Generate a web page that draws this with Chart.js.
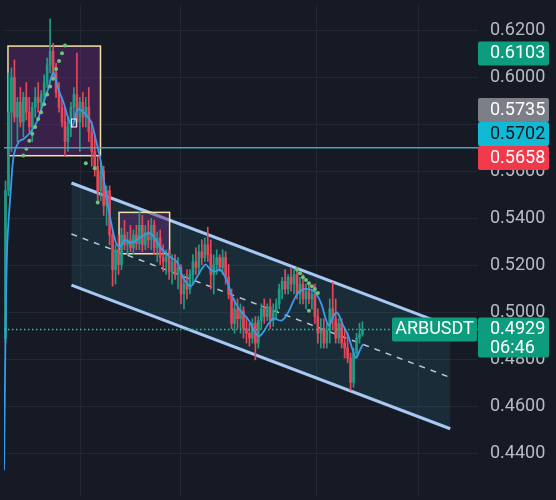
<!DOCTYPE html>
<html>
<head>
<meta charset="utf-8">
<script src="https://cdn.jsdelivr.net/npm/chart.js@4.4.1/dist/chart.umd.min.js"></script>
<style>
  html, body { margin: 0; padding: 0; background: #161a25; }
  #wrap { width: 556px; height: 500px; position: relative; }
</style>
</head>
<body>
<div id="wrap"><canvas id="chart"></canvas></div>
<script>
// ── ARBUSDT candles ──
const opens = [
  0.4892,0.5519,0.5853,0.6000,0.5832,0.5895,0.5811,0.5916,0.5853,0.5790,
  0.5874,0.5916,0.5895,0.5928,0.5979,0.6054,0.6112,0.6020,0.5937,0.5874,
  0.5811,0.5728,0.5790,0.5874,0.5928,0.5811,0.5895,0.5832,0.5874,0.5770,
  0.5686,0.5623,0.5519,0.5602,0.5456,0.5519,0.5331,0.5184,0.5268,0.5205,
  0.5331,0.5289,0.5310,0.5276,0.5331,0.5293,0.5372,0.5289,0.5343,0.5310,
  0.5372,0.5276,0.5318,0.5235,0.5218,0.5247,0.5176,0.5218,0.5163,0.5193,
  0.5080,0.5122,0.5101,0.5163,0.5218,0.5193,0.5260,0.5235,0.5289,0.5247,
  0.5163,0.5205,0.5235,0.5193,0.5235,0.5151,0.5080,0.4955,0.5017,0.4975,
  0.5009,0.4933,0.4913,0.4892,0.4955,0.4871,0.4967,0.5017,0.4984,0.5026,
  0.4967,0.5009,0.5038,0.5101,0.5134,0.5101,0.5151,0.5122,0.5163,0.5080,
  0.5122,0.5059,0.5092,0.5059,0.5080,0.4984,0.4913,0.4933,0.4871,0.4925,
  0.5017,0.4975,0.4892,0.4955,0.4871,0.4850,0.4808,0.4704,0.4829,0.4892,
  0.4908
];
const highs = [
  0.5561,0.6020,0.6041,0.6075,0.5916,0.5958,0.5937,0.5979,0.5916,0.5895,
  0.5958,0.5979,0.5945,0.6012,0.6083,0.6250,0.6146,0.6062,0.5979,0.5916,
  0.5874,0.5832,0.5895,0.5958,0.6104,0.5916,0.5937,0.5916,0.5958,0.5811,
  0.5749,0.5665,0.5644,0.5623,0.5540,0.5540,0.5352,0.5289,0.5331,0.5360,
  0.5393,0.5343,0.5372,0.5352,0.5372,0.5435,0.5414,0.5372,0.5393,0.5402,
  0.5393,0.5343,0.5352,0.5289,0.5268,0.5268,0.5247,0.5247,0.5235,0.5205,
  0.5163,0.5184,0.5184,0.5247,0.5276,0.5289,0.5310,0.5318,0.5364,0.5310,
  0.5247,0.5268,0.5247,0.5268,0.5260,0.5205,0.5101,0.5059,0.5059,0.5038,
  0.5026,0.4984,0.4955,0.4975,0.4984,0.4984,0.5038,0.5059,0.5038,0.5059,
  0.5038,0.5059,0.5122,0.5151,0.5184,0.5163,0.5193,0.5184,0.5193,0.5151,
  0.5163,0.5122,0.5122,0.5101,0.5122,0.5017,0.4975,0.4975,0.4955,0.5059,
  0.5130,0.5059,0.4975,0.4975,0.4933,0.4913,0.4829,0.4850,0.4913,0.4955,
  0.4962
];
const lows = [
  0.4871,0.5498,0.5686,0.5811,0.5728,0.5790,0.5749,0.5820,0.5770,0.5728,
  0.5832,0.5853,0.5862,0.5895,0.5958,0.6020,0.6000,0.5916,0.5853,0.5790,
  0.5665,0.5686,0.5749,0.5832,0.5790,0.5686,0.5790,0.5790,0.5728,0.5623,
  0.5581,0.5477,0.5477,0.5414,0.5372,0.5289,0.5113,0.5122,0.5163,0.5184,
  0.5268,0.5247,0.5260,0.5247,0.5268,0.5268,0.5260,0.5268,0.5276,0.5268,
  0.5247,0.5218,0.5205,0.5176,0.5163,0.5142,0.5122,0.5142,0.5101,0.5038,
  0.5017,0.5059,0.5080,0.5122,0.5163,0.5163,0.5205,0.5218,0.5218,0.5101,
  0.5080,0.5163,0.5176,0.5163,0.5122,0.5059,0.4933,0.4913,0.4933,0.4913,
  0.4892,0.4871,0.4858,0.4871,0.4800,0.4850,0.4933,0.4955,0.4967,0.4933,
  0.4942,0.4975,0.5017,0.5059,0.5080,0.5080,0.5092,0.5080,0.5059,0.5038,
  0.5038,0.5017,0.5038,0.5017,0.4955,0.4871,0.4850,0.4850,0.4850,0.4871,
  0.4933,0.4871,0.4871,0.4850,0.4808,0.4787,0.4670,0.4683,0.4808,0.4871,
  0.4900
];
const closes = [
  0.5519,0.5853,0.6000,0.5832,0.5895,0.5811,0.5916,0.5853,0.5790,0.5874,
  0.5916,0.5895,0.5928,0.5979,0.6054,0.6112,0.6020,0.5937,0.5874,0.5811,
  0.5728,0.5790,0.5874,0.5928,0.5811,0.5895,0.5832,0.5874,0.5770,0.5686,
  0.5623,0.5519,0.5602,0.5456,0.5519,0.5331,0.5184,0.5268,0.5205,0.5331,
  0.5289,0.5310,0.5276,0.5331,0.5293,0.5372,0.5289,0.5343,0.5310,0.5372,
  0.5276,0.5318,0.5235,0.5218,0.5247,0.5176,0.5218,0.5163,0.5193,0.5080,
  0.5122,0.5101,0.5163,0.5218,0.5193,0.5260,0.5235,0.5289,0.5247,0.5163,
  0.5205,0.5235,0.5193,0.5235,0.5151,0.5080,0.4955,0.5017,0.4975,0.5009,
  0.4933,0.4913,0.4892,0.4955,0.4871,0.4967,0.5017,0.4984,0.5026,0.4967,
  0.5009,0.5038,0.5101,0.5134,0.5101,0.5151,0.5122,0.5163,0.5080,0.5122,
  0.5059,0.5092,0.5059,0.5080,0.4984,0.4913,0.4933,0.4871,0.4925,0.5017,
  0.4975,0.4892,0.4955,0.4871,0.4850,0.4808,0.4704,0.4829,0.4892,0.4908,
  0.4929
];

// ── moving average (blue) ──
const maIdx = [-0.5,0.5,1.83,2.83,4.5,6.17,8.5,10.5,12.83,14.5,15.5,16.17,17.83,19.5,21.17,22.5,
  23.83,24.83,26.83,28.83,30.5,31.83,33.5,35.17,37.17,38.5,40.17,42.17,45.5,48.5,50.5,52.17,
  55.17,57.83,59.5,62.17,64.5,67.17,68.83,70.5,72.17,74.5,76.17,78.5,81.83,83.5,85.17,86.83,
  88.5,90.17,92.83,95.17,96.83,98.5,100.5,102.83,104.5,106.17,107.83,108.83,110.17,111.5,
  113.17,115.17,116.5,117.83,119.17,120.17];
const maVal = [0.4330,0.5256,0.5531,0.5673,0.5728,0.5740,0.5770,0.5811,0.5895,0.5958,0.6008,0.6020,
  0.5949,0.5895,0.5824,0.5795,0.5853,0.5866,0.5845,0.5811,0.5728,0.5657,0.5531,0.5406,0.5297,
  0.5281,0.5310,0.5297,0.5322,0.5339,0.5310,0.5276,0.5239,0.5214,0.5155,0.5113,0.5155,0.5205,
  0.5184,0.5176,0.5184,0.5134,0.5071,0.5017,0.4967,0.4925,0.4900,0.4921,0.4955,0.4975,0.4967,
  0.5005,0.5051,0.5088,0.5101,0.5097,0.5080,0.5038,0.4967,0.4946,0.4984,0.5001,0.4955,0.4904,
  0.4850,0.4808,0.4842,0.4867];

// ── SAR dots (green) ──
const sarIdx = [6,7,8,9,10,11,12,13,14,15,16,17,18,19,20, 27,30,31, 98,99,100,101,102,103,104,105,102];
const sarVal = [0.5669,0.5698,0.5732,0.5761,0.5790,0.5824,0.5853,0.5887,0.5928,0.5962,0.5995,
  0.6037,0.6071,0.6104,0.6137, 0.5636,0.5615,0.5469,
  0.5184,0.5168,0.5151,0.5139,0.5126,0.5113,0.5101,0.5084,0.5009];

// ── descending channel ──
const channelIdx = [22.17, 149.5];
const upperVal = [0.5552, 0.4942];
const midVal   = [0.5335, 0.4725];
const lowerVal = [0.5118, 0.4507];

// ── rectangles (start idx, end idx, top, bottom) ──
const boxStart  = [0.83, 38.17];
const boxEnd    = [31.93, 55.17];
const boxTop    = [0.6134, 0.5427];
const boxBottom = [0.5668, 0.5251];

// small white marker inside the first box
const markStart = 22.2, markEnd = 23.8, markTop = 0.5824, markBottom = 0.5790;

// ── price lines / tags ──
const cyanLevel = 0.5702;
const lastPrice = 0.4929;
const lastTimer = '06:46';
const symbol = 'ARBUSDT';
const tagValues = [0.6103, 0.5735, 0.5702, 0.5658, 0.4929];
const tagFill   = ['#0e9c7e', '#7c7f88', '#12b9d5', '#f03a4b', '#0e9c7e'];
const tagInk    = ['#ffffff', '#ffffff', '#131722', '#ffffff', '#ffffff'];

// ── axis ──
const gridX = [25.17, 58.83, 104.5, 138.83];
const yMin = 0.4221, yMax = 0.6313, yStep = 0.02;

const UP = '#1f9d84', DOWN = '#e8475a';
const idx = closes.map((_, i) => i);
const candleColors = closes.map((c, i) => c >= opens[i] ? UP : DOWN);
const pts = (xs, ys) => xs.map((v, i) => ({ x: v, y: ys[i] }));

/* ════════════════════════════
   OVERLAYS (boxes, price lines, tags)
════════════════════════════ */
const overlays = {
  id: 'overlays',
  beforeDatasetDraw(chart, args) {
    if (args.index !== 3) return;
    const { ctx, scales: { x, y } } = chart;
    ctx.save();
    boxStart.forEach((s, i) => {
      const x0 = x.getPixelForValue(s), x1 = x.getPixelForValue(boxEnd[i]);
      const y0 = y.getPixelForValue(boxTop[i]), y1 = y.getPixelForValue(boxBottom[i]);
      ctx.fillStyle = 'rgba(103,43,120,0.45)';
      ctx.fillRect(x0, y0, x1 - x0, y1 - y0);
      ctx.strokeStyle = '#f3e2a2';
      ctx.lineWidth = 1.5;
      ctx.strokeRect(x0, y0, x1 - x0, y1 - y0);
    });
    ctx.restore();
  },
  afterDatasetsDraw(chart) {
    const { ctx, chartArea: a, scales: { x, y } } = chart;
    ctx.save();
    // marker
    const mx0 = x.getPixelForValue(markStart), mx1 = x.getPixelForValue(markEnd);
    const my0 = y.getPixelForValue(markTop), my1 = y.getPixelForValue(markBottom);
    ctx.strokeStyle = '#ffffff';
    ctx.lineWidth = 1;
    ctx.strokeRect(mx0, my0, mx1 - mx0, my1 - my0);
    // cyan level
    let py = y.getPixelForValue(cyanLevel);
    ctx.strokeStyle = '#4aa3b6';
    ctx.lineWidth = 1.5;
    ctx.beginPath(); ctx.moveTo(a.left, py); ctx.lineTo(a.right, py); ctx.stroke();
    // last price dotted
    py = Math.round(y.getPixelForValue(lastPrice)) + 0.5;
    ctx.strokeStyle = '#2fc49c';
    ctx.lineWidth = 1.5;
    ctx.setLineDash([1.5, 2.5]);
    ctx.beginPath(); ctx.moveTo(a.left, py); ctx.lineTo(a.right, py); ctx.stroke();
    ctx.restore();
  },
  afterDraw(chart) {
    const { ctx, chartArea: a, scales: { y } } = chart;
    const h = 24, w = 71;
    ctx.save();
    ctx.font = '18px Roboto';
    ctx.textBaseline = 'middle';
    const order = tagValues.map((v, i) => i).sort((p, q) => tagValues[p] - tagValues[q]);
    let prevTop = Infinity;
    order.forEach(i => {
      const v = tagValues[i];
      const two = v === lastPrice;
      const bh = two ? 40 : h;
      const top = Math.min(y.getPixelForValue(v) - h / 2, prevTop - bh);
      prevTop = top;
      ctx.fillStyle = tagFill[i];
      ctx.beginPath(); ctx.roundRect(a.right, top, w, bh, 2); ctx.fill();
      ctx.fillStyle = tagInk[i];
      ctx.textAlign = 'left';
      ctx.fillText(v.toFixed(4), a.right + 12, top + 12.5);
      if (two) {
        ctx.fillText(lastTimer, a.right + 12, top + 31);
        // symbol label
        ctx.fillStyle = tagFill[i];
        ctx.beginPath(); ctx.roundRect(a.right - 86, top, 85, h, 2); ctx.fill();
        ctx.fillStyle = '#ffffff';
        ctx.textAlign = 'center';
        ctx.fillText(symbol, a.right - 43.5, top + 12.5);
      }
    });
    ctx.restore();
  }
};

/* ════════════════════════════
   CHART
════════════════════════════ */
new Chart(document.getElementById('chart'), {
  type: 'bar',
  data: {
    datasets: [
      { type: 'line', data: pts(channelIdx, upperVal), borderColor: '#a6c8f2', borderWidth: 3,
        pointRadius: 0, order: 6 },
      { type: 'line', data: pts(channelIdx, lowerVal), borderColor: '#a6c8f2', borderWidth: 3,
        pointRadius: 0, fill: '-1', backgroundColor: 'rgba(45,110,130,0.22)', order: 6 },
      { type: 'line', data: pts(channelIdx, midVal), borderColor: 'rgba(220,226,236,0.85)',
        borderWidth: 1.5, borderDash: [6, 6], pointRadius: 0, order: 5 },
      { type: 'bar', data: idx.map(i => ({ x: i, y: [lows[i], highs[i]] })),
        backgroundColor: candleColors, barThickness: 1, grouped: false, order: 3 },
      { type: 'bar', data: idx.map(i => ({ x: i, y: [opens[i], closes[i]] })),
        backgroundColor: candleColors, barThickness: 2, grouped: false, minBarLength: 1, order: 2 },
      { type: 'line', data: pts(maIdx, maVal), borderColor: '#3a9be8', borderWidth: 1.8,
        pointRadius: 0, tension: 0.35, order: 1 },
      { type: 'scatter', data: pts(sarIdx, sarVal), backgroundColor: '#6cc57a',
        pointRadius: 2, borderWidth: 0, order: 0 }
    ]
  },
  options: {
    responsive: true,
    maintainAspectRatio: false,
    animation: false,
    layout: { padding: 0 },
    plugins: { legend: { display: false }, tooltip: { enabled: false } },
    scales: {
      x: {
        type: 'linear', min: -0.5, max: -0.5 + 478 / 3, offset: false,
        grid: { color: '#232733', offset: false, drawTicks: false },
        border: { display: false },
        ticks: { display: false },
        afterBuildTicks: s => { s.ticks = gridX.map(v => ({ value: v })); },
        afterFit: s => { s.height = 0; s.paddingLeft = 0; s.paddingRight = 0; }
      },
      y: {
        type: 'linear', position: 'right', min: yMin, max: yMax,
        grid: { color: '#232733', drawTicks: false },
        border: { display: false },
        ticks: {
          stepSize: yStep, includeBounds: false, padding: 12,
          color: '#b8bbc4', font: { family: 'Roboto', size: 18 },
          callback: v => v.toFixed(4)
        },
        afterFit: s => { s.width = 78; s.paddingTop = 0; s.paddingBottom = 0; }
      }
    }
  },
  plugins: [overlays]
});
</script>
</body>
</html>
